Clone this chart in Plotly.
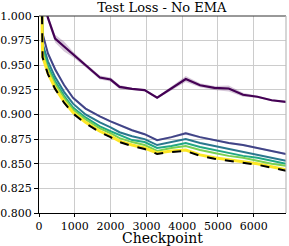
import plotly.graph_objects as go

checkpoints = [0, 100, 250, 450, 700, 950, 1300, 1700, 2000, 2250, 2600, 2950,
               3300, 3700, 4100, 4500, 4900, 5300, 5700, 6100, 6500, 6900]

loss_purple = [1.10, 1.020, 0.998, 0.977, 0.969, 0.961, 0.950, 0.9375, 0.9355, 0.928, 0.926, 0.9247,
               0.917, 0.9265, 0.936, 0.9297, 0.927, 0.9264, 0.920, 0.918, 0.9145, 0.9128]
err_purple = [0.003, 0.003, 0.003, 0.004, 0.005, 0.003, 0.002, 0.002, 0.002, 0.002, 0.001, 0.001,
              0.001, 0.002, 0.003, 0.002, 0.002, 0.003, 0.002, 0.001, 0.001, 0.001]
loss_blue = [1.28, 0.982, 0.962, 0.946, 0.930, 0.917, 0.906, 0.898, 0.893, 0.889, 0.884, 0.880,
             0.874, 0.877, 0.881, 0.877, 0.874, 0.871, 0.869, 0.866, 0.863, 0.860]
err_blue = [0.002, 0.002, 0.002, 0.002, 0.001, 0.001, 0.001, 0.001, 0.001, 0.001, 0.001, 0.001,
            0.001, 0.001, 0.0015, 0.001, 0.001, 0.001, 0.001, 0.001, 0.001, 0.001]
loss_teal = [1.25, 0.972, 0.954, 0.938, 0.923, 0.911, 0.900, 0.892, 0.887, 0.882, 0.878, 0.875,
             0.869, 0.872, 0.875, 0.871, 0.868, 0.865, 0.862, 0.859, 0.856, 0.853]
loss_green = [1.24, 0.968, 0.949, 0.934, 0.919, 0.907, 0.897, 0.888, 0.883, 0.879, 0.874, 0.872,
              0.866, 0.868, 0.871, 0.867, 0.864, 0.861, 0.858, 0.856, 0.853, 0.850]
loss_lightgreen = [1.23, 0.964, 0.946, 0.931, 0.917, 0.905, 0.895, 0.886, 0.881, 0.876, 0.872, 0.869,
                   0.863, 0.866, 0.868, 0.864, 0.861, 0.858, 0.856, 0.853, 0.850, 0.848]
loss_yellow = [1.22, 0.959, 0.942, 0.927, 0.913, 0.902, 0.892, 0.883, 0.878, 0.873, 0.869, 0.866,
               0.861, 0.863, 0.864, 0.859, 0.856, 0.854, 0.852, 0.850, 0.847, 0.844]
loss_black = [1.22, 0.958, 0.941, 0.926, 0.912, 0.901, 0.891, 0.882, 0.877, 0.872, 0.868, 0.865,
              0.860, 0.862, 0.863, 0.858, 0.855, 0.853, 0.851, 0.849, 0.846, 0.843]

x_ticks = [0, 1000, 2000, 3000, 4000, 5000, 6000]
y_ticks = [0.800, 0.825, 0.850, 0.875, 0.900, 0.925, 0.950, 0.975, 1.000]

FONT = "DejaVu Serif"
fig = go.Figure()


def band(vals, errs, color):
    up = [v + e for v, e in zip(vals, errs)]
    lo = [v - e for v, e in zip(vals, errs)]
    fig.add_trace(go.Scatter(x=checkpoints, y=up, mode="lines", line=dict(width=0),
                             hoverinfo="skip", showlegend=False))
    fig.add_trace(go.Scatter(x=checkpoints, y=lo, mode="lines", line=dict(width=0),
                             fill="tonexty", fillcolor=color, hoverinfo="skip", showlegend=False))


band(loss_purple, err_purple, "rgba(68,1,84,0.22)")
band(loss_blue, err_blue, "rgba(65,68,135,0.22)")

series = [
    (loss_purple, "#440154", 2.2, "solid"),
    (loss_blue, "#414487", 2.0, "solid"),
    (loss_teal, "#2a788e", 2.0, "solid"),
    (loss_green, "#22a884", 2.0, "solid"),
    (loss_lightgreen, "#7ad151", 2.0, "solid"),
    (loss_yellow, "#fde725", 3.0, "solid"),
    (loss_black, "#000000", 2.0, "dash"),
]
for vals, col, w, dash in series:
    fig.add_trace(go.Scatter(x=checkpoints, y=vals, mode="lines",
                             line=dict(color=col, width=w, dash=dash),
                             showlegend=False))

fig.update_layout(
    width=289, height=246,
    margin=dict(l=39, r=3, t=16, b=33, autoexpand=False),
    paper_bgcolor="white", plot_bgcolor="white",
    font=dict(family=FONT, size=11, color="black"),
    title=dict(text="Test Loss - No EMA", x=0.56, xref="container", xanchor="center",
               y=0.968, yref="container", yanchor="middle",
               font=dict(family=FONT, size=13, color="black")),
    shapes=[
        dict(type="line", xref="paper", yref="paper", x0=0, x1=1, y0=1, y1=1,
             line=dict(color="#333333", width=1)),
        dict(type="line", xref="paper", yref="paper", x0=1, x1=1, y0=0, y1=1,
             line=dict(color="#bbbbbb", width=1.2)),
    ],
    annotations=[
        dict(text="Checkpoint", xref="paper", yref="paper", x=0.5, y=-0.128,
             xanchor="center", yanchor="middle", showarrow=False,
             font=dict(family=FONT, size=14, color="black")),
    ],
)
fig.update_xaxes(
    range=[0, 6900], tickvals=x_ticks, ticktext=[str(t) for t in x_ticks],
    showgrid=True, gridcolor="#cccccc", gridwidth=1,
    showline=True, linecolor="black", linewidth=1.3,
    ticks="outside", ticklen=3, tickcolor="black", tickwidth=1,
    zeroline=False, automargin=False,
    tickfont=dict(family=FONT, size=11, color="black"),
)
fig.update_yaxes(
    range=[0.8, 1.0], tickvals=y_ticks, tickformat=".3f",
    showgrid=True, gridcolor="#cccccc", gridwidth=1,
    showline=True, linecolor="black", linewidth=1.3,
    ticks="outside", ticklen=4, tickcolor="black", tickwidth=1,
    zeroline=False, automargin=False,
    tickfont=dict(family=FONT, size=11, color="black"),
)

fig.write_html("out.html", config={"displayModeBar": False},
               post_script="document.body.style.margin='0';")
